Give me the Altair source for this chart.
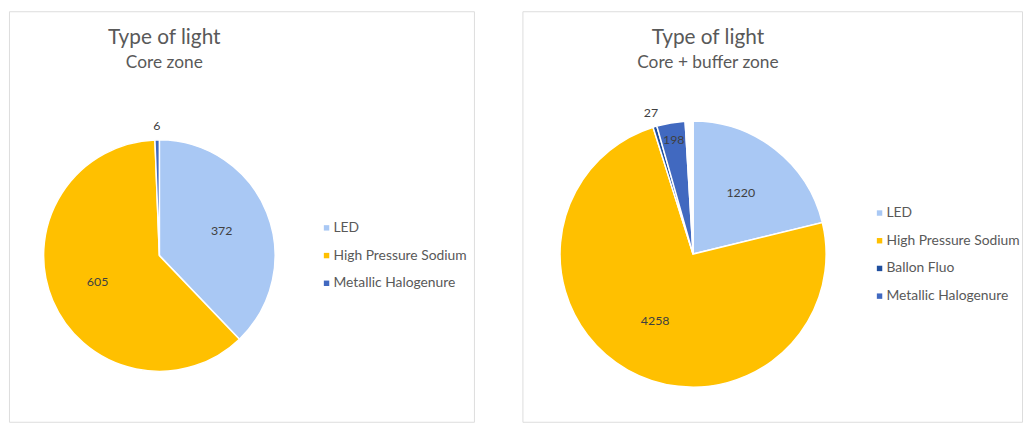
import altair as alt
import pandas as pd

# ---- data ----
left_types = ["LED", "High Pressure Sodium", "Metallic Halogenure"]
left_values = [372, 605, 6]
left_colors = ["#A9C8F4", "#FFC000", "#4169C0"]

right_types = ["LED", "High Pressure Sodium", "Ballon Fluo", "Metallic Halogenure", "(blank)"]
right_values = [1220, 4258, 27, 198, 55]
right_colors = ["#A9C8F4", "#FFC000", "#1F4E9E", "#4169C0", "#FFFFFF"]

titles = ["Type of light", "Type of light"]
subtitles = ["Core zone", "Core + buffer zone"]

FONT = "Lato"
GRAY = "#595959"


def panel(types, values, colors, legend_vals, title, subtitle,
          w, h, cx, cy, r, lx, ly, tdx, tdy):
    df = pd.DataFrame({"type": types, "value": values, "idx": list(range(len(types)))})
    base = alt.Chart(df).transform_joinaggregate(
        total="sum(value)"
    ).transform_calculate(
        frac="datum.value / datum.total"
    )
    theta = alt.Theta("value:Q", stack=True)
    order = alt.Order("idx:Q")
    color = alt.Color(
        "type:N",
        scale=alt.Scale(domain=types, range=colors),
        legend=alt.Legend(
            title=None, orient="none", legendX=lx, legendY=ly,
            values=legend_vals, symbolType="square", symbolSize=30,
            symbolStrokeWidth=0, labelFontSize=14, labelColor=GRAY,
            labelFont=FONT, rowPadding=14, labelOffset=0,
        ),
    )
    arcs = base.mark_arc(radius=r, stroke="white", strokeWidth=1.5).encode(
        theta=theta, order=order, color=color,
        x=alt.value(cx), y=alt.value(cy),
    )
    txt = dict(font=FONT, fontSize=12.5, color="#404040")
    inside = base.mark_text(radius=r * 0.58, **txt).encode(
        theta=theta, order=order, text="value:Q",
        x=alt.value(cx), y=alt.value(cy),
        opacity=alt.condition("datum.frac > 0.1", alt.value(1), alt.value(0)),
    )
    edge = base.mark_text(radius=r * 0.87, **txt).encode(
        theta=theta, order=order, text="value:Q",
        x=alt.value(cx), y=alt.value(cy),
        opacity=alt.condition("datum.frac > 0.02 && datum.frac <= 0.1 && datum.type != '(blank)'",
                              alt.value(1), alt.value(0)),
    )
    outside = base.mark_text(radius=r + 14, **txt).encode(
        theta=theta, order=order, text="value:Q",
        x=alt.value(cx), y=alt.value(cy),
        opacity=alt.condition("datum.frac <= 0.02 && datum.type != '(blank)'",
                              alt.value(1), alt.value(0)),
    )
    return alt.layer(arcs, inside, edge, outside).properties(
        width=w, height=h,
        title=alt.TitleParams(
            title, subtitle=subtitle, font=FONT, subtitleFont=FONT,
            fontSize=21, subtitleFontSize=17.5, fontWeight="normal",
            color=GRAY, subtitleColor=GRAY, anchor="middle",
            dx=tdx, dy=tdy, subtitlePadding=6,
        ),
    )


left = panel(left_types, left_values, left_colors, left_types,
             titles[0], subtitles[0],
             470, 415, 152, 247, 117, 314, 212, -78, 65)
right = panel(right_types, right_values, right_colors, right_types[:4],
              titles[1], subtitles[1],
              505, 415, 172.5, 245.5, 134.5, 354, 197, -65, 65)

chart = alt.hconcat(left, right, spacing=47).resolve_scale(
    color="independent"
).properties(
    padding=0
).configure_view(
    stroke="#D9D9D9", strokeWidth=1
).configure(background="white")

chart.save("out.html", embed_options={"renderer": "svg", "actions": False})
